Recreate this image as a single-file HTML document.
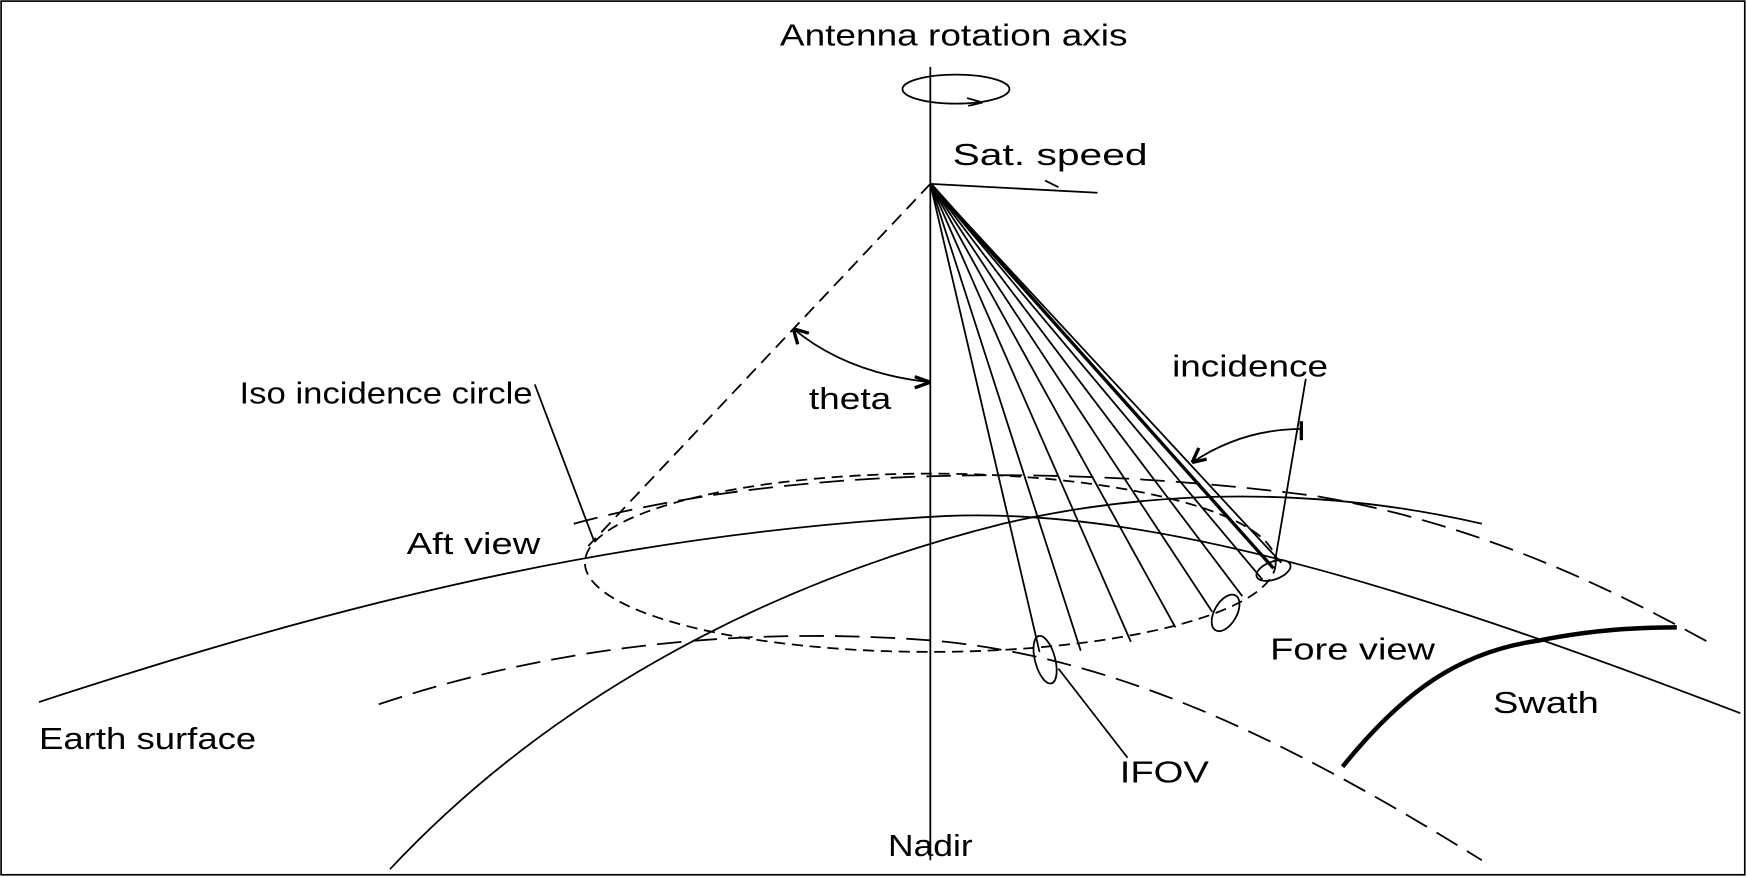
<!DOCTYPE html>
<html><head><meta charset="utf-8"><style>
html,body{margin:0;padding:0;background:#fff;}
svg{display:block;}
text{font-family:"Liberation Sans",sans-serif;font-size:27px;fill:#000;}
</style></head><body>
<svg width="1747" height="877" viewBox="0 0 1568 787" preserveAspectRatio="none" xmlns="http://www.w3.org/2000/svg">
<rect x="1" y="1" width="1565" height="784" fill="#fff" stroke="#000" stroke-width="1.5"/>
<g fill="none" stroke="#000" stroke-width="1.6">
<line x1="835" y1="60" x2="835" y2="772"/>
<ellipse cx="858" cy="80" rx="48" ry="13"/>
<path d="M868 88 l14 4 l-13 3" />
<line x1="835" y1="165" x2="985" y2="173"/>
<path d="M950 168 l-12 -6"/>
<line x1="835" y1="165" x2="528" y2="490" stroke-dasharray="12,7"/>
<path d="M712 295 Q760 335 835 343"/>
<path d="M712 295 l4 14 M712 295 l14 4" stroke-width="3"/>
<path d="M835 343 l-14 -5 M835 343 l-14 5" stroke-width="3"/>
<line x1="835" y1="165" x2="933" y2="585"/>
<line x1="835" y1="165" x2="970" y2="584"/>
<line x1="835" y1="165" x2="1015" y2="576"/>
<line x1="835" y1="165" x2="1055" y2="563"/>
<line x1="835" y1="165" x2="1088" y2="549"/>
<line x1="835" y1="165" x2="1115" y2="535"/>
<line x1="835" y1="165" x2="1133" y2="520"/>
<line x1="835" y1="165" x2="1143" y2="510" stroke-width="3"/>
<line x1="835" y1="165" x2="1150" y2="505"/>
<ellipse cx="835" cy="505" rx="310" ry="80" stroke-dasharray="10,6"/>
<path d="M1070 415 Q1115 385 1168 385"/>
<path d="M1070 415 l6 -13 M1070 415 l13 -3" stroke-width="3"/>
<line x1="1168" y1="378" x2="1168" y2="395" stroke-width="3"/>
<line x1="1172" y1="340" x2="1145" y2="500"/>
<path d="M35 630 C250 560 520 480 850 463 C1050 455 1300 540 1562 640"/>
<path d="M350 780 C500 620 700 520 900 470 C1050 435 1200 440 1330 470"/>
<path d="M515 470 C700 420 950 415 1180 445 C1330 470 1450 530 1540 580" stroke-dasharray="22,10"/>
<path d="M340 632 C480 585 650 560 840 575 C1000 590 1150 660 1330 772" stroke-dasharray="22,10"/>
<path d="M1205 688 C1260 620 1310 585 1380 575 C1430 565 1470 563 1505 563" stroke-width="4"/>
<ellipse cx="938" cy="592" rx="9" ry="22" transform="rotate(-15 938 592)"/>
<ellipse cx="1100" cy="550" rx="10" ry="18" transform="rotate(30 1100 550)"/>
<ellipse cx="1143" cy="512" rx="8" ry="16" transform="rotate(70 1143 512)"/>
<line x1="950" y1="600" x2="1012" y2="680"/>
<line x1="480" y1="345" x2="533" y2="485"/>
</g>
<text x="700" y="41" textLength="312" lengthAdjust="spacingAndGlyphs">Antenna rotation axis</text>
<text x="855" y="148" textLength="175" lengthAdjust="spacingAndGlyphs">Sat. speed</text>
<text x="726" y="367" textLength="74" lengthAdjust="spacingAndGlyphs">theta</text>
<text x="1052" y="338" textLength="140" lengthAdjust="spacingAndGlyphs">incidence</text>
<text x="215" y="362" textLength="263" lengthAdjust="spacingAndGlyphs">Iso incidence circle</text>
<text x="365" y="497" textLength="120" lengthAdjust="spacingAndGlyphs">Aft view</text>
<text x="1140" y="592" textLength="148" lengthAdjust="spacingAndGlyphs">Fore view</text>
<text x="1340" y="640" textLength="95" lengthAdjust="spacingAndGlyphs">Swath</text>
<text x="35" y="672" textLength="195" lengthAdjust="spacingAndGlyphs">Earth surface</text>
<text x="1005" y="702" textLength="80" lengthAdjust="spacingAndGlyphs">IFOV</text>
<text x="797" y="768" textLength="76" lengthAdjust="spacingAndGlyphs">Nadir</text>
</svg>
</body></html>
